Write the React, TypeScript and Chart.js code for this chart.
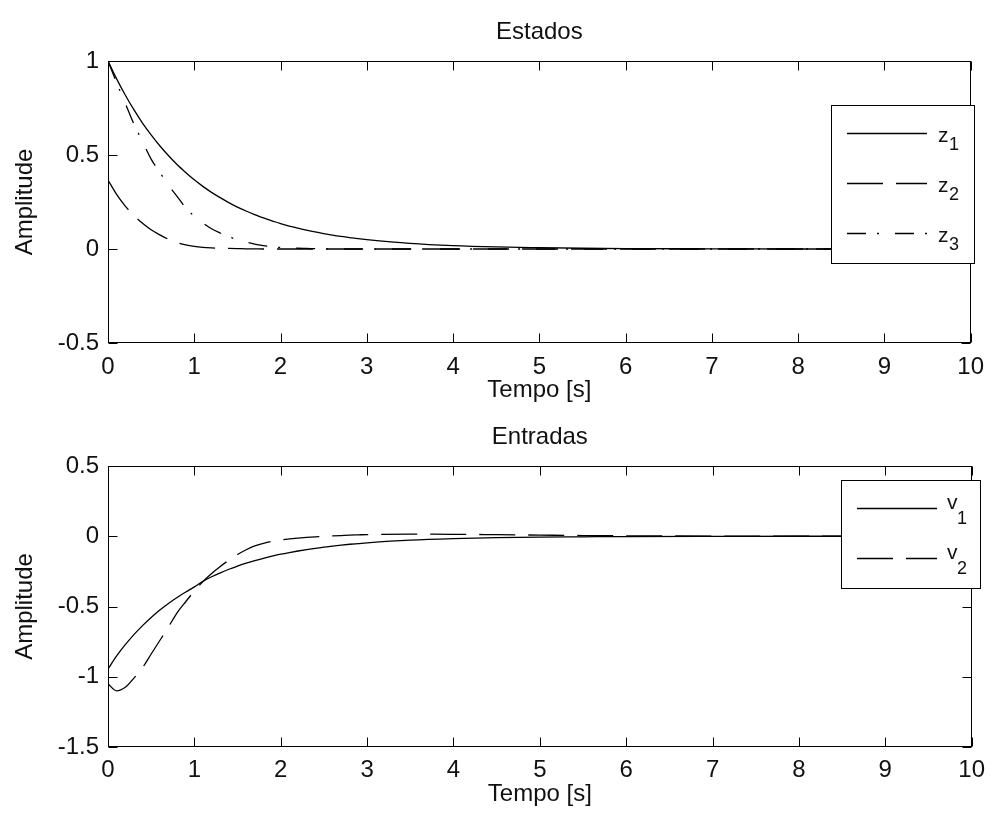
import React, { useEffect, useRef } from "react";
import { Chart, registerables } from "chart.js";

Chart.register(...registerables);

const FONT = "'Liberation Sans', Arial, Helvetica, sans-serif";
Chart.defaults.font.family = FONT;
Chart.defaults.font.size = 24;
Chart.defaults.color = "#111";

// Time samples [s]
const tempo = [
  0, 0.1, 0.2, 0.3, 0.4, 0.5, 0.6, 0.7, 0.8, 0.9,
  1.0, 1.1, 1.2, 1.3, 1.4, 1.5, 1.6, 1.7, 1.8, 1.9,
  2.0, 2.1, 2.2, 2.3, 2.4, 2.5, 2.6, 2.7, 2.8, 2.9,
  3.0, 3.5, 4, 4.5, 5, 5.5, 6, 7, 8, 9, 10,
];

// States
const z1 = [
  1.0, 0.905, 0.819, 0.741, 0.67, 0.607, 0.549, 0.497, 0.449, 0.407,
  0.368, 0.333, 0.301, 0.273, 0.247, 0.223, 0.202, 0.183, 0.165, 0.15,
  0.135, 0.122, 0.111, 0.1, 0.091, 0.082, 0.074, 0.067, 0.061, 0.055,
  0.05, 0.03, 0.018, 0.011, 0.007, 0.004, 0.002, 0.001, 0, 0, 0,
];
const z2 = [
  0.367, 0.29, 0.228, 0.178, 0.137, 0.102, 0.075, 0.052, 0.034, 0.022,
  0.014, 0.009, 0.006, 0.004, 0.003, 0.002, 0.001, 0.001, 0, 0,
  0, 0, 0, 0, 0, 0, 0, 0, 0, 0,
  0, 0, 0, 0, 0, 0, 0, 0, 0, 0, 0,
];
const z3 = [
  1.0, 0.885, 0.775, 0.665, 0.572, 0.478, 0.408, 0.34, 0.28, 0.22,
  0.175, 0.138, 0.108, 0.085, 0.065, 0.05, 0.037, 0.026, 0.018, 0.012,
  0.008, 0.006, 0.004, 0.003, 0.002, 0.001, 0, 0, 0, 0,
  0, 0, 0, 0, 0, 0, 0, 0, 0, 0, 0,
];

// Inputs
const v1 = [
  -0.945, -0.852, -0.772, -0.7, -0.636, -0.578, -0.525, -0.478, -0.436, -0.397,
  -0.36, -0.32, -0.288, -0.26, -0.235, -0.212, -0.192, -0.174, -0.157, -0.142,
  -0.128, -0.116, -0.105, -0.095, -0.086, -0.078, -0.07, -0.063, -0.057, -0.052,
  -0.047, -0.028, -0.017, -0.01, -0.006, -0.004, -0.002, -0.001, 0, 0, 0,
];
const v2 = [
  -1.05, -1.1, -1.075, -1.01, -0.935, -0.838, -0.742, -0.645, -0.545, -0.466,
  -0.39, -0.322, -0.265, -0.215, -0.17, -0.13, -0.096, -0.068, -0.05, -0.036,
  -0.026, -0.019, -0.013, -0.008, -0.004, -0.001, 0.002, 0.005, 0.008, 0.01,
  0.012, 0.015, 0.014, 0.011, 0.008, 0.005, 0.003, 0.001, 0, 0, 0,
];

// Axis ticks
const xTicks = [0, 1, 2, 3, 4, 5, 6, 7, 8, 9, 10];
const yTicksEstados = [-0.5, 0, 0.5, 1];
const yTicksEntradas = [-1.5, -1, -0.5, 0, 0.5];

const DASHED = [36, 13];
const DASH_DOT = [19, 11, 2, 16];

type Serie = { name: string; sub: string; values: number[]; dash: number[] };

type Panel = {
  title: string;
  titleBaseline: number;
  series: Serie[];
  yMin: number;
  yMax: number;
  yTicks: number[];
  padTop: number;
  xAxisHeight: number;
  xTickPad: number;
  xTitlePad: number;
  legend: {
    x: number; y: number; w: number; h: number;
    rows: number[]; x0: number; x1: number;
    textX: number; subX: number; textDy: number; subDy: number;
  };
};

const estados: Panel = {
  title: "Estados",
  titleBaseline: 39,
  series: [
    { name: "z", sub: "1", values: z1, dash: [] },
    { name: "z", sub: "2", values: z2, dash: DASHED },
    { name: "z", sub: "3", values: z3, dash: DASH_DOT },
  ],
  yMin: -0.5,
  yMax: 1,
  yTicks: yTicksEstados,
  padTop: 61,
  xAxisHeight: 67,
  xTickPad: 10,
  xTitlePad: 5,
  legend: {
    x: 831, y: 105, w: 143, h: 158,
    rows: [133, 183, 233], x0: 847, x1: 927,
    textX: 938, subX: 949, textDy: 9, subDy: 17,
  },
};

const entradas: Panel = {
  title: "Entradas",
  titleBaseline: 34,
  series: [
    { name: "v", sub: "1", values: v1, dash: [] },
    { name: "v", sub: "2", values: v2, dash: DASHED },
  ],
  yMin: -1.5,
  yMax: 0.5,
  yTicks: yTicksEntradas,
  padTop: 56,
  xAxisHeight: 73,
  xTickPad: 9,
  xTitlePad: 11,
  legend: {
    x: 841, y: 70, w: 139, h: 108,
    rows: [98, 148], x0: 857, x1: 937,
    textX: 947, subX: 957, textDy: 1, subDy: 16,
  },
};

const TICK = 9;
const LINE_W = 1.3;

// Box, inward ticks on all four sides, title and legend
function moldura(p: Panel) {
  return {
    id: "moldura",
    afterDraw(chart: any) {
      const { ctx, chartArea: a } = chart;
      const xs = chart.scales.x;
      const ys = chart.scales.y;
      const L = Math.round(a.left) + 0.5;
      const R = Math.round(a.right) - 0.5;
      const T = Math.round(a.top) + 0.5;
      const B = Math.round(a.bottom) - 0.5;
      ctx.save();
      ctx.strokeStyle = "#000";
      ctx.lineWidth = 1;
      ctx.setLineDash([]);
      ctx.strokeRect(L, T, R - L, B - T);
      ctx.beginPath();
      xTicks.forEach((v) => {
        const px = Math.round(xs.getPixelForValue(v)) + 0.5;
        ctx.moveTo(px, B);
        ctx.lineTo(px, B - TICK);
        ctx.moveTo(px, T);
        ctx.lineTo(px, T + TICK);
      });
      p.yTicks.forEach((v) => {
        const py = Math.round(ys.getPixelForValue(v)) + 0.5;
        ctx.moveTo(L, py);
        ctx.lineTo(L + TICK, py);
        ctx.moveTo(R, py);
        ctx.lineTo(R - TICK, py);
      });
      ctx.stroke();

      // title
      ctx.fillStyle = "#111";
      ctx.font = `24px ${FONT}`;
      ctx.textAlign = "center";
      ctx.textBaseline = "alphabetic";
      ctx.fillText(p.title, (a.left + a.right) / 2, p.titleBaseline);

      // legend
      const g = p.legend;
      ctx.fillStyle = "#fff";
      ctx.fillRect(g.x, g.y, g.w, g.h);
      ctx.strokeStyle = "#000";
      ctx.strokeRect(g.x + 0.5, g.y + 0.5, g.w, g.h);
      p.series.forEach((s, i) => {
        const ry = g.rows[i] + 0.5;
        ctx.beginPath();
        ctx.lineWidth = LINE_W;
        ctx.setLineDash(s.dash);
        ctx.moveTo(g.x0, ry);
        ctx.lineTo(g.x1, ry);
        ctx.stroke();
        ctx.setLineDash([]);
        ctx.fillStyle = "#111";
        ctx.textAlign = "left";
        ctx.font = `21px ${FONT}`;
        ctx.fillText(s.name, g.textX, g.rows[i] + g.textDy);
        ctx.font = `18px ${FONT}`;
        ctx.fillText(s.sub, g.subX, g.rows[i] + g.subDy);
      });
      ctx.restore();
    },
  };
}

function buildConfig(p: Panel): any {
  return {
    type: "line",
    data: {
      datasets: p.series.map((s) => ({
        label: s.name + s.sub,
        data: tempo.map((t, i) => ({ x: t, y: s.values[i] })),
        borderColor: "#000",
        borderWidth: LINE_W,
        borderDash: s.dash,
        pointRadius: 0,
        fill: false,
        cubicInterpolationMode: "monotone",
      })),
    },
    options: {
      animation: false,
      responsive: false,
      maintainAspectRatio: false,
      events: [],
      layout: { padding: { left: 0, right: 16, top: p.padTop, bottom: 0 } },
      plugins: {
        legend: { display: false },
        tooltip: { enabled: false },
        title: { display: false },
      },
      scales: {
        x: {
          type: "linear",
          min: 0,
          max: 10,
          afterBuildTicks: (s: any) => {
            s.ticks = xTicks.map((v) => ({ value: v }));
          },
          afterFit: (s: any) => {
            s.height = p.xAxisHeight;
          },
          grid: { display: false, drawTicks: false },
          border: { display: false },
          ticks: {
            padding: p.xTickPad,
            autoSkip: false,
            maxRotation: 0,
            color: "#111",
            font: { size: 24 },
            callback: (v: any) => String(v),
          },
          title: {
            display: true,
            text: "Tempo [s]",
            color: "#111",
            font: { size: 24 },
            padding: { top: 0, bottom: p.xTitlePad },
          },
        },
        y: {
          type: "linear",
          min: p.yMin,
          max: p.yMax,
          afterBuildTicks: (s: any) => {
            s.ticks = p.yTicks.map((v) => ({ value: v }));
          },
          afterFit: (s: any) => {
            s.width = 108;
          },
          grid: { display: false, drawTicks: false },
          border: { display: false },
          ticks: {
            padding: 9,
            autoSkip: false,
            color: "#111",
            font: { size: 24 },
            callback: (v: any) => String(v),
          },
          title: {
            display: true,
            text: "Amplitude",
            color: "#111",
            font: { size: 24 },
            padding: { top: 11, bottom: 0 },
          },
        },
      },
    },
    plugins: [moldura(p)],
  };
}

export default function App() {
  const topRef = useRef<HTMLCanvasElement>(null);
  const botRef = useRef<HTMLCanvasElement>(null);

  useEffect(() => {
    const c1 = new Chart(topRef.current as HTMLCanvasElement, buildConfig(estados));
    const c2 = new Chart(botRef.current as HTMLCanvasElement, buildConfig(entradas));
    return () => {
      c1.destroy();
      c2.destroy();
    };
  }, []);

  return (
    <div
      style={{
        position: "fixed",
        left: 0,
        top: 0,
        width: 994,
        height: 820,
        background: "#fff",
        overflow: "hidden",
      }}
    >
      <canvas
        ref={topRef}
        width={994}
        height={410}
        style={{ position: "absolute", left: 0, top: 0, width: 994, height: 410 }}
      />
      <canvas
        ref={botRef}
        width={994}
        height={410}
        style={{ position: "absolute", left: 0, top: 410, width: 994, height: 410 }}
      />
    </div>
  );
}
